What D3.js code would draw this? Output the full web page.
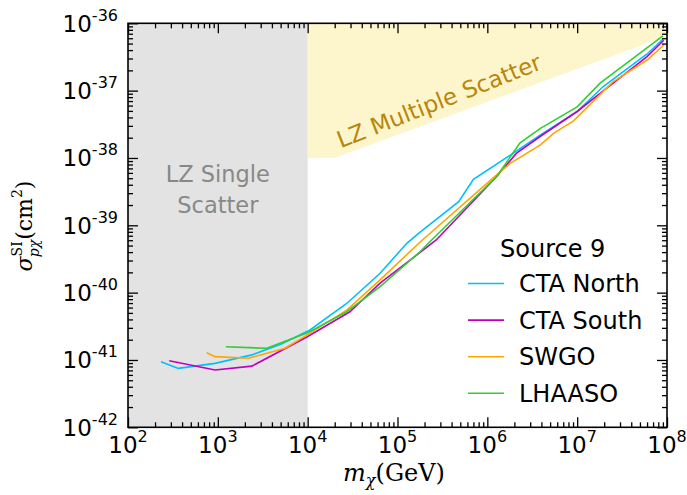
<!DOCTYPE html>
<html>
<head>
<meta charset="utf-8">
<script src="https://cdn.jsdelivr.net/npm/d3@7"></script>
<style>
  body { margin: 0; background: #fff; }
  svg { font-family: "DejaVu Sans", sans-serif; }
</style>
</head>
<body>
<div id="chart"></div>
<script>
// data (mass in GeV, cross section in cm^2)
const ctaNorthMass = [233, 363, 930, 2390, 5100, 10600, 27200, 64000, 127000, 180000, 480000, 700000, 1.8e6, 3.9e6, 1e7, 1.95e7, 6e7, 9e7];
const ctaNorthSigma = [9.4e-42, 7.5e-42, 8.9e-42, 1.19e-41, 1.73e-41, 2.79e-41, 6.9e-41, 1.94e-40, 5.4e-40, 8.0e-40, 2.24e-39, 4.8e-39, 1.1e-38, 2.2e-38, 4.9e-38, 1.15e-37, 3.5e-37, 5.8e-37];

const ctaSouthMass = [288, 930, 2390, 9800, 29500, 64000, 270000, 1.27e6, 2.1e6, 3.9e6, 1e7, 2e7, 6e7, 9.2e7];
const ctaSouthSigma = [9.75e-42, 7.1e-42, 8.1e-42, 2.19e-41, 5.2e-41, 1.38e-40, 6.05e-40, 5.3e-39, 1.17e-38, 2.1e-38, 4.9e-38, 1.02e-37, 3.2e-37, 5.6e-37];

const swgoMass = [751, 930, 2190, 5600, 9800, 27200, 64000, 180000, 1.27e6, 1.8e6, 3.9e6, 5.5e6, 9.1e6, 2.5e7, 6e7, 9.3e7];
const swgoSigma = [1.28e-41, 1.12e-41, 1.06e-41, 1.49e-41, 2.34e-41, 5.5e-41, 1.55e-40, 5.7e-40, 5.6e-39, 8.3e-39, 1.56e-38, 2.34e-38, 3.55e-38, 1.35e-37, 2.85e-37, 4.8e-37];

const lhaasoMass = [1230, 3500, 10000, 27200, 64000, 180000, 240000, 1.27e6, 2.3e6, 3.9e6, 1e7, 1.8e7, 9e7];
const lhaasoSigma = [1.57e-41, 1.49e-41, 2.54e-41, 5.2e-41, 1.23e-40, 4.1e-40, 6.05e-40, 5.3e-39, 1.66e-38, 2.75e-38, 5.75e-38, 1.29e-37, 6.5e-37];

const seriesNames = ["CTA North", "CTA South", "SWGO", "LHAASO"];
const seriesColors = ["#00bfff", "#bf00bf", "#ffa500", "#32cd32"];

const xTickExps = [2, 3, 4, 5, 6, 7, 8];
const yTickExps = [-42, -41, -40, -39, -38, -37, -36];

// excluded regions
const singleScatterMass = [1e2, 1e4];
const multiScatterMass = [1e4, 1e4, 2e4, 1e8, 1e8];
const multiScatterSigma = [1e-36, 1e-38, 1e-38, 6.5e-37, 1e-36];

const W = 687, H = 495;
const margin = {left: 128, right: 20, top: 23.3, bottom: 67.7};

const svg = d3.select('#chart').append('svg')
    .attr('width', W).attr('height', H);

const x = d3.scaleLog().domain([1e2, 1e8]).range([margin.left, W - margin.right]);
const y = d3.scaleLog().domain([1e-42, 1e-36]).range([H - margin.bottom, margin.top]);

// gray single scatter band
svg.append('rect')
    .attr('x', x(singleScatterMass[0]))
    .attr('y', y(1e-36))
    .attr('width', x(singleScatterMass[1]) - x(singleScatterMass[0]))
    .attr('height', y(1e-42) - y(1e-36))
    .attr('fill', '#e3e3e3');

// yellow multiple scatter region
svg.append('path')
    .datum(d3.zip(multiScatterMass, multiScatterSigma))
    .attr('d', d3.line().x(d => x(d[0])).y(d => y(d[1])))
    .attr('fill', '#fdf5cc');

svg.append('text')
    .attr('text-anchor', 'middle')
    .attr('fill', '#888888')
    .attr('font-size', 22.5)
    .selectAll('tspan')
    .data(['LZ Single', 'Scatter'])
    .enter().append('tspan')
    .attr('x', x(1e3))
    .attr('y', (d, i) => 182 + i * 31)
    .text(d => d);

svg.append('text')
    .attr('transform', 'translate(439,101) rotate(-21.5)')
    .attr('text-anchor', 'middle')
    .attr('dy', '0.35em')
    .attr('fill', '#b8860b')
    .attr('font-size', 23)
    .text('LZ Multiple Scatter');

// curves
const allSeries = [
    d3.zip(ctaNorthMass, ctaNorthSigma),
    d3.zip(ctaSouthMass, ctaSouthSigma),
    d3.zip(swgoMass, swgoSigma),
    d3.zip(lhaasoMass, lhaasoSigma)
];
const line = d3.line().x(d => x(d[0])).y(d => y(d[1]));

svg.append('defs').append('clipPath').attr('id', 'clip')
    .append('rect')
    .attr('x', margin.left).attr('y', margin.top)
    .attr('width', W - margin.right - margin.left)
    .attr('height', H - margin.bottom - margin.top);

svg.append('g')
    .attr('clip-path', 'url(#clip)')
    .selectAll('path')
    .data(allSeries)
    .enter()
    .append('path')
    .attr('d', line)
    .attr('fill', 'none')
    .attr('stroke', (d, i) => seriesColors[i])
    .attr('stroke-width', 1.6);

// ticks
const xMajor = xTickExps.map(e => Math.pow(10, e));
const yMajor = yTickExps.map(e => Math.pow(10, e));
const xMinor = [];
xTickExps.slice(0, -1).forEach(e => { for (let k = 2; k < 10; k++) xMinor.push(k * Math.pow(10, e)); });
const yMinor = [];
yTickExps.slice(0, -1).forEach(e => { for (let k = 2; k < 10; k++) yMinor.push(k * Math.pow(10, e)); });

function drawAxis(axisFn, scale, vals, size, transform) {
    const g = svg.append('g')
        .attr('transform', transform)
        .call(axisFn(scale).tickValues(vals).tickSize(-size).tickFormat(''));
    g.select('.domain').remove();
    g.selectAll('line').attr('stroke', '#000').attr('stroke-width', 1.3);
}
const bottomY = H - margin.bottom, rightX = W - margin.right;
drawAxis(d3.axisBottom, x, xMajor, 10, `translate(0,${bottomY})`);
drawAxis(d3.axisBottom, x, xMinor, 5, `translate(0,${bottomY})`);
drawAxis(d3.axisTop, x, xMajor, 10, `translate(0,${margin.top})`);
drawAxis(d3.axisTop, x, xMinor, 5, `translate(0,${margin.top})`);
drawAxis(d3.axisLeft, y, yMajor, 10, `translate(${margin.left},0)`);
drawAxis(d3.axisLeft, y, yMinor, 5, `translate(${margin.left},0)`);
drawAxis(d3.axisRight, y, yMajor, 10, `translate(${rightX},0)`);
drawAxis(d3.axisRight, y, yMinor, 5, `translate(${rightX},0)`);

// frame
svg.append('rect')
    .attr('x', margin.left).attr('y', margin.top)
    .attr('width', rightX - margin.left)
    .attr('height', bottomY - margin.top)
    .attr('fill', 'none')
    .attr('stroke', '#000')
    .attr('stroke-width', 1.6);

// tick labels
const xl = svg.append('g').selectAll('text')
    .data(xTickExps).enter().append('text')
    .attr('x', d => x(Math.pow(10, d)))
    .attr('y', bottomY + 26)
    .attr('text-anchor', 'middle')
    .attr('font-size', 23);
xl.append('tspan').text('10');
xl.append('tspan').attr('dy', -11).attr('font-size', 16).text(d => d);

const yl = svg.append('g').selectAll('text')
    .data(yTickExps).enter().append('text')
    .attr('x', margin.left - 10)
    .attr('y', d => y(Math.pow(10, d)) + 8.4)
    .attr('text-anchor', 'end')
    .attr('font-size', 23);
yl.append('tspan').text('10');
yl.append('tspan').attr('dy', -11).attr('font-size', 16).text(d => d);

// axis titles
const serif = '"DejaVu Serif", "Liberation Serif", serif';
const xt = svg.append('text')
    .attr('x', 394)
    .attr('y', 481)
    .attr('text-anchor', 'middle')
    .style('font-family', serif)
    .attr('font-size', 24);
xt.append('tspan').attr('font-style', 'italic').text('m');
xt.append('tspan').attr('font-style', 'italic').attr('font-size', 16).attr('dy', 5).text('χ');
xt.append('tspan').attr('dy', -5).text('(GeV)');

const yt = svg.append('text')
    .attr('transform', 'translate(32,226) rotate(-90)')
    .attr('text-anchor', 'middle')
    .style('font-family', serif)
    .attr('font-size', 22);
yt.append('tspan').attr('font-style', 'italic').text('σ');
yt.append('tspan').attr('font-size', 14).attr('dy', -10).text('SI');
yt.append('tspan').attr('font-size', 14).attr('font-style', 'italic').attr('dx', -16).attr('dy', 17).text('pχ');
yt.append('tspan').attr('dy', -7).text('(cm');
yt.append('tspan').attr('font-size', 14).attr('dy', -10).text('2');
yt.append('tspan').attr('dy', 10).text(')');

// legend
svg.append('text')
    .attr('x', 500).attr('y', 257)
    .attr('font-size', 24)
    .text('Source 9');
const leg = svg.append('g').selectAll('g')
    .data(seriesNames).enter().append('g')
    .attr('transform', (d, i) => `translate(468,${283.5 + i * 36.6})`);
leg.append('line')
    .attr('x1', 0).attr('x2', 36)
    .attr('stroke', (d, i) => seriesColors[i])
    .attr('stroke-width', 1.6);
leg.append('text')
    .attr('x', 51).attr('y', 8.5)
    .attr('font-size', 24)
    .text(d => d);
</script>
</body>
</html>
